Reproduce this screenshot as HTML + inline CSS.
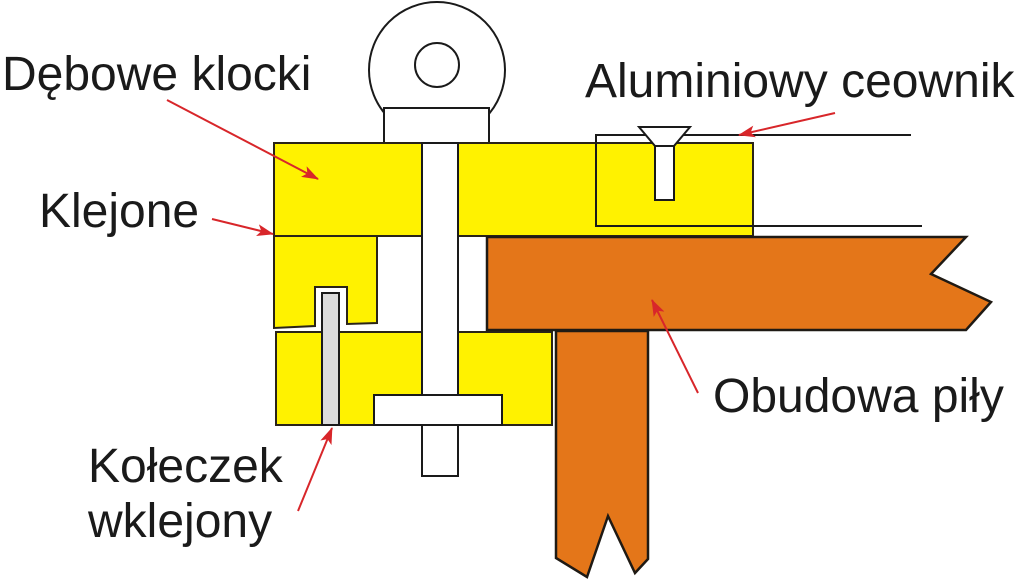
<!DOCTYPE html>
<html>
<head>
<meta charset="utf-8">
<style>
  html, body { margin: 0; padding: 0; background: #ffffff; }
  svg { display: block; }
  text { font-family: "Liberation Sans", Arial, sans-serif; font-size: 48px; fill: #1a1a1a; }
</style>
</head>
<body>
<svg width="1024" height="579" viewBox="0 0 1024 579" xmlns="http://www.w3.org/2000/svg">
  <defs>
    <marker id="ah" markerUnits="userSpaceOnUse" markerWidth="18" markerHeight="12" refX="16" refY="6" orient="auto">
      <path d="M0,0 L17,6 L0,12 L4,6 Z" fill="#d8262a"/>
    </marker>
  </defs>

  <!-- eye bolt head -->
  <circle cx="437" cy="70" r="68" fill="#fff" stroke="#1a1a1a" stroke-width="2"/>
  <circle cx="437" cy="65" r="22" fill="#fff" stroke="#1a1a1a" stroke-width="2"/>
  <rect x="384" y="108" width="105" height="35" fill="#fff" stroke="#1a1a1a" stroke-width="2"/>

  <!-- top yellow blocks -->
  <rect x="274" y="143" width="148" height="93" fill="#fff200" stroke="#2a2418" stroke-width="2"/>
  <rect x="458" y="143" width="295" height="93" fill="#fff200" stroke="#2a2418" stroke-width="2"/>

  <!-- aluminium channel -->
  <polyline points="911,135 596,135 596,226 922,226" fill="none" stroke="#1a1a1a" stroke-width="2"/>
  <!-- countersunk screw -->
  <polygon points="639,127 690,127 674,146 655,146" fill="#fff" stroke="#1a1a1a" stroke-width="2"/>
  <rect x="655" y="146" width="19" height="54" fill="#fff" stroke="#1a1a1a" stroke-width="2"/>

  <!-- middle-left glued block with notch -->
  <polygon points="274,236 377,236 377,323 347,324 347,287 315,287 315,326 274,328" fill="#fff200" stroke="#2a2418" stroke-width="2"/>

  <!-- lower yellow block -->
  <rect x="276" y="332" width="276" height="93" fill="#fff200" stroke="#2a2418" stroke-width="2"/>

  <!-- dowel -->
  <rect x="322" y="293" width="17" height="132" fill="#dcdcdc" stroke="#1a1a1a" stroke-width="2"/>

  <!-- bolt shaft -->
  <rect x="422" y="143" width="36" height="333" fill="#fff" stroke="#1a1a1a" stroke-width="2"/>
  <!-- washer / nut -->
  <rect x="374" y="395" width="128" height="30" fill="#fff" stroke="#1a1a1a" stroke-width="2"/>

  <!-- saw housing (orange) -->
  <polygon points="487,237 966,237 931,274 991,302 966,330 487,330" fill="#e47619" stroke="#1f1a14" stroke-width="2.5"/>
  <polygon points="556,331 648,331 648,559 635,573 608,516 587,577 556,558" fill="#e47619" stroke="#1f1a14" stroke-width="2.5"/>

  <!-- arrows -->
  <g stroke="#d8262a" stroke-width="2" fill="none" marker-end="url(#ah)">
    <line x1="167" y1="100" x2="318" y2="179"/>
    <line x1="212" y1="219" x2="273" y2="234"/>
    <line x1="835" y1="113" x2="739" y2="135"/>
    <line x1="698" y1="393" x2="652" y2="300"/>
    <line x1="298" y1="511" x2="332" y2="428"/>
  </g>

  <!-- labels -->
  <text x="2" y="90">Dębowe klocki</text>
  <text x="39" y="227">Klejone</text>
  <text x="585" y="97">Aluminiowy ceownik</text>
  <text x="713" y="412">Obudowa piły</text>
  <text x="88" y="482">Kołeczek</text>
  <text x="88" y="537">wklejony</text>
</svg>
</body>
</html>
